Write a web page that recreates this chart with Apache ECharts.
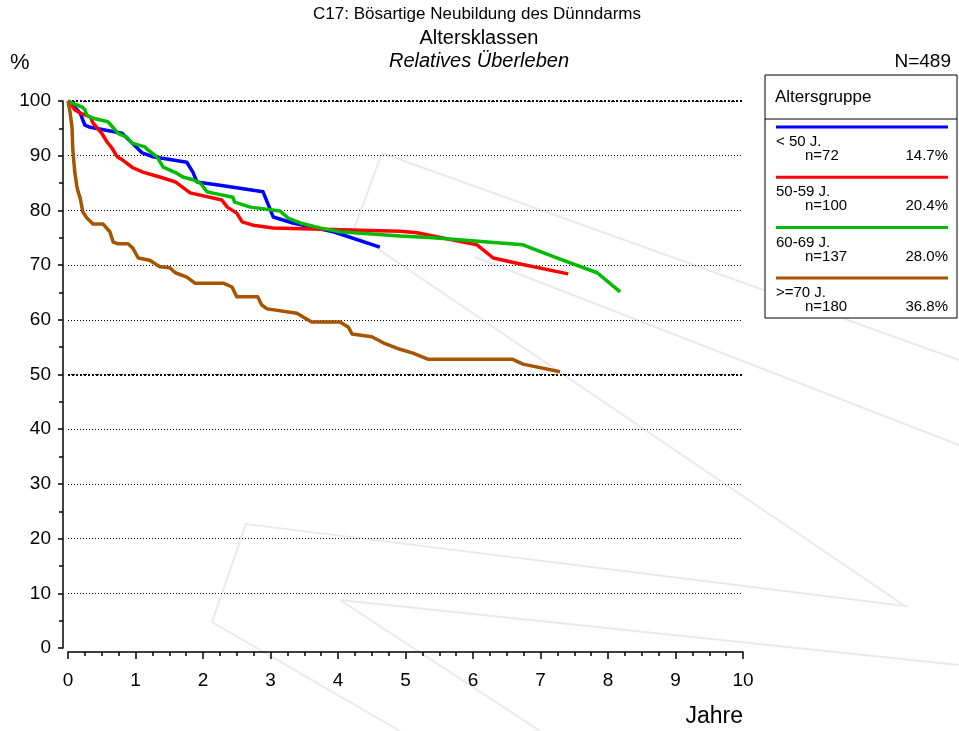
<!DOCTYPE html>
<html>
<head>
<meta charset="utf-8">
<script src="https://cdn.jsdelivr.net/npm/echarts@6/dist/echarts.min.js"></script>
<style>
  html, body { margin: 0; padding: 0; background: #fff; }
  #chart { width: 959px; height: 731px; }
</style>
</head>
<body>
<div id="chart"></div>
<script>
// Altersgruppen
const groupNames = ['< 50 J.', '50-59 J.', '60-69 J.', '>=70 J.']
const groupN = [72, 100, 137, 180]
const groupPct = ['14.7%', '20.4%', '28.0%', '36.8%']
const groupColors = ['#0000ff', '#ff0000', '#00bb00', '#a65400']

// Relatives Überleben (Jahre / %)
const yearsU50 = [0, 0.03, 0.18, 0.25, 0.33, 0.80, 0.95, 1.10, 1.26, 1.76, 1.85, 1.91, 2.25, 2.89, 3.04, 3.33, 3.93, 4.62]
const survU50 = [100, 99.8, 97.8, 95.6, 95.2, 94.1, 92.3, 90.5, 89.8, 88.8, 87.0, 85.2, 84.6, 83.4, 78.8, 77.7, 76.1, 73.3]

const years5059 = [0, 0.03, 0.10, 0.18, 0.33, 0.37, 0.50, 0.58, 0.65, 0.73, 0.81, 0.96, 1.11, 1.36, 1.59, 1.69, 1.81, 2.28, 2.36, 2.50, 2.58, 2.74, 3.04, 4.92, 5.17, 6.06, 6.30, 6.70, 7.41]
const surv5059 = [100, 99.8, 98.4, 97.8, 97.1, 96.0, 94.1, 92.5, 91.4, 89.8, 89.2, 87.8, 87.0, 86.1, 85.2, 84.3, 83.2, 81.9, 80.6, 79.5, 77.9, 77.3, 76.8, 76.2, 75.9, 73.7, 71.3, 70.2, 68.4]

const years6069 = [0, 0.03, 0.21, 0.25, 0.28, 0.36, 0.59, 0.70, 0.74, 0.87, 0.95, 1.14, 1.19, 1.32, 1.41, 1.61, 1.70, 1.85, 1.96, 2.06, 2.13, 2.44, 2.47, 2.70, 3.14, 3.26, 3.44, 3.73, 4.03, 4.92, 5.41, 6.74, 7.24, 7.84, 8.18]
const surv6069 = [100, 99.8, 98.9, 98.4, 97.4, 96.9, 96.2, 94.7, 94.1, 93.4, 92.3, 91.6, 91.0, 89.8, 87.9, 86.8, 86.1, 85.6, 85.0, 83.4, 83.2, 82.4, 81.5, 80.6, 79.9, 78.6, 77.7, 76.8, 76.1, 75.3, 75.0, 73.7, 71.3, 68.6, 65.1]

const years70 = [0, 0.03, 0.06, 0.07, 0.10, 0.13, 0.15, 0.18, 0.22, 0.28, 0.37, 0.52, 0.62, 0.67, 0.74, 0.89, 0.96, 1.04, 1.21, 1.36, 1.51, 1.59, 1.76, 1.88, 2.30, 2.43, 2.50, 2.81, 2.87, 2.95, 3.39, 3.61, 4.03, 4.15, 4.21, 4.50, 4.67, 4.87, 5.11, 5.33, 6.58, 6.74, 7.29]
const surv70 = [100, 98.0, 95.1, 91.4, 87.0, 84.5, 83.4, 82.3, 79.7, 78.6, 77.5, 77.5, 76.1, 74.2, 73.9, 73.9, 73.1, 71.3, 70.9, 69.7, 69.5, 68.6, 67.8, 66.7, 66.7, 66.0, 64.2, 64.2, 62.7, 62.0, 61.2, 59.6, 59.6, 58.7, 57.4, 56.9, 55.8, 54.8, 53.9, 52.8, 52.8, 51.9, 50.5]

const seriesYears = [yearsU50, years5059, years6069, years70]
const seriesSurv = [survU50, surv5059, surv6069, surv70]

const xTicks = [0, 10, 1]     // min, max, interval
const yTicks = [0, 100, 10]
const boldGridLines = [50, 100]

const chart = echarts.init(document.getElementById('chart'), null, { renderer: 'canvas' })

const font = 'Arial, "Liberation Sans", sans-serif'

// Hintergrund-Logo (Wasserzeichen)
const watermark = [
  [[382, 153], [959, 360]],
  [[382, 153], [353, 232], [905, 606], [246, 524], [212, 622], [400, 731]],
  [[475, 257], [959, 445]],
  [[340, 600], [959, 665]],
  [[340, 600], [540, 731]]
]

const series = seriesYears.map((yrs, i) => ({
  name: groupNames[i],
  type: 'line',
  data: yrs.map((x, j) => [x, seriesSurv[i][j]]),
  showSymbol: false,
  symbol: 'none',
  z: 10 + i,
  lineStyle: { color: groupColors[i], width: 3.5, join: 'round' },
  itemStyle: { color: groupColors[i] }
}))

series[0].markLine = {
  silent: true,
  symbol: ['none', 'none'],
  label: { show: false },
  lineStyle: { color: '#000', type: [2, 2], width: 2 },
  data: boldGridLines.map(v => ({ yAxis: v }))
}

// Legende als Grafik
const legendGraphics = [
  {
    type: 'rect',
    shape: { x: 765, y: 75, width: 192, height: 243 },
    style: { fill: '#fff', stroke: '#000', lineWidth: 1 }
  },
  {
    type: 'line',
    shape: { x1: 765, y1: 119, x2: 957, y2: 119 },
    style: { stroke: '#000', lineWidth: 1 }
  },
  {
    type: 'text',
    x: 775, y: 97,
    style: { text: 'Altersgruppe', font: '17px ' + font, fill: '#000', verticalAlign: 'middle' }
  }
]
groupNames.forEach((name, i) => {
  const y0 = 127 + i * 50.3
  legendGraphics.push(
    {
      type: 'line',
      shape: { x1: 776, y1: y0, x2: 948, y2: y0 },
      style: { stroke: groupColors[i], lineWidth: 3 }
    },
    {
      type: 'text', x: 776, y: y0 + 15,
      style: { text: name, font: '15px ' + font, fill: '#000', verticalAlign: 'middle' }
    },
    {
      type: 'text', x: 805, y: y0 + 29,
      style: { text: 'n=' + groupN[i], font: '15px ' + font, fill: '#000', verticalAlign: 'middle' }
    },
    {
      type: 'text', x: 948, y: y0 + 29,
      style: { text: groupPct[i], font: '15px ' + font, fill: '#000', align: 'right', verticalAlign: 'middle' }
    }
  )
})

const option = {
  animation: false,
  backgroundColor: '#fff',
  grid: { left: 68, right: 216, top: 101, bottom: 83, containLabel: false },
  xAxis: {
    type: 'value',
    min: xTicks[0],
    max: xTicks[1],
    interval: xTicks[2],
    offset: 4,
    axisLine: { show: true, onZero: false, lineStyle: { color: '#000', width: 1.5 } },
    axisTick: { show: true, length: 7, lineStyle: { color: '#000', width: 1.5 } },
    minorTick: { show: true, splitNumber: 4, length: 4, lineStyle: { color: '#000', width: 1.5 } },
    axisLabel: { color: '#000', fontSize: 19, fontFamily: font, margin: 19 },
    splitLine: { show: false }
  },
  yAxis: {
    type: 'value',
    min: yTicks[0],
    max: yTicks[1],
    interval: yTicks[2],
    offset: 5,
    axisLine: { show: true, onZero: false, lineStyle: { color: '#000', width: 1.5 } },
    axisTick: { show: true, length: 5, lineStyle: { color: '#000', width: 1.5 } },
    minorTick: { show: true, splitNumber: 2, length: 4, lineStyle: { color: '#000', width: 1.5 } },
    axisLabel: { color: '#000', fontSize: 19, fontFamily: font, margin: 12 },
    splitLine: { show: true, showMinLine: false, lineStyle: { color: '#000', type: [1, 2], width: 1 } }
  },
  graphic: [
    ...watermark.map(pts => ({
      type: 'polyline',
      silent: true,
      z: -10,
      shape: { points: pts },
      style: { stroke: '#eaeaea', lineWidth: 2, fill: null }
    })),
    {
      type: 'text', x: 477, y: 14,
      style: { text: 'C17: Bösartige Neubildung des Dünndarms', font: '17px ' + font, fill: '#000', align: 'center', verticalAlign: 'middle' }
    },
    {
      type: 'text', x: 479, y: 38,
      style: { text: 'Altersklassen', font: '20px ' + font, fill: '#000', align: 'center', verticalAlign: 'middle' }
    },
    {
      type: 'text', x: 479, y: 61,
      style: { text: 'Relatives Überleben', font: 'italic 20px ' + font, fill: '#000', align: 'center', verticalAlign: 'middle' }
    },
    {
      type: 'text', x: 10, y: 63,
      style: { text: '%', font: '22px ' + font, fill: '#000', verticalAlign: 'middle' }
    },
    {
      type: 'text', x: 951, y: 62,
      style: { text: 'N=489', font: '19px ' + font, fill: '#000', align: 'right', verticalAlign: 'middle' }
    },
    {
      type: 'text', x: 743, y: 717,
      style: { text: 'Jahre', font: '23px ' + font, fill: '#000', align: 'right', verticalAlign: 'middle' }
    },
    ...legendGraphics
  ],
  series: series
}

chart.setOption(option)
</script>
</body>
</html>
